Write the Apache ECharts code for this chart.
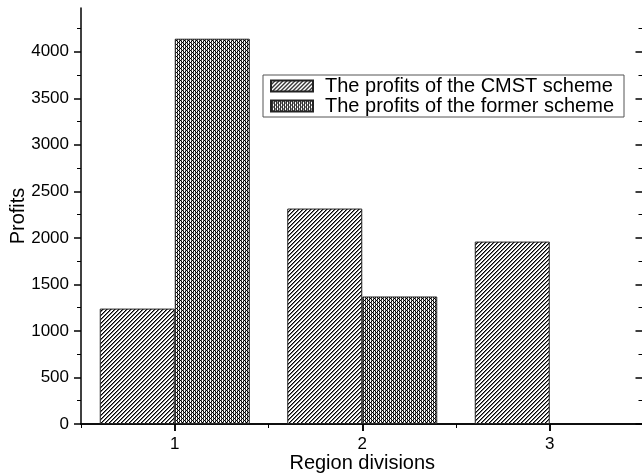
<!DOCTYPE html>
<html>
<head>
<meta charset="utf-8">
<script src="https://cdn.jsdelivr.net/npm/echarts@6/dist/echarts.min.js"></script>
<style>
html,body{margin:0;padding:0;background:#fff;}
#c{width:642px;height:474px;}
</style>
</head>
<body>
<div id="c"></div>
<script>
// ---- data ----
var regions = [1, 2, 3];
var cmstProfits = [1240, 2315, 1960];
var formerProfits = [4140, 1370, null];
var seriesNames = ['The profits of the CMST scheme', 'The profits of the former scheme'];
var yTickValues = [0, 500, 1000, 1500, 2000, 2500, 3000, 3500, 4000];
var yMinorValues = [250, 750, 1250, 1750, 2250, 2750, 3250, 3750, 4250];
var xTickValues = [1, 2, 3];
var xMinorValues = [0.5, 1.5, 2.5, 3.5];
var yMax = 4470;
var xMin = 0.5, xMax = 3.5;

// ---- patterns ----
function makeTile(fn) {
  var c = document.createElement('canvas');
  c.width = 4; c.height = 4;
  var ctx = c.getContext('2d');
  ctx.fillStyle = '#fff';
  ctx.fillRect(0, 0, 4, 4);
  for (var y = 0; y < 4; y++) {
    for (var x = 0; x < 4; x++) {
      var col = fn(x, y);
      if (col) { ctx.fillStyle = col; ctx.fillRect(x, y, 1, 1); }
    }
  }
  return c;
}
var hatch = makeTile(function (x, y) {
  var k = (x + y) % 4;
  if (k === 3) return '#000';
  if (k === 0) return '#777';
  return null;
});
var cross = makeTile(function (x, y) {
  var a = (x + y) % 4, b = ((x - y) % 4 + 4) % 4;
  if (a === 0 || b === 0) return '#000';
  if ((a === 1 && b === 1) || (a === 3 && b === 3)) return '#666';
  return null;
});

var font = 'Liberation Sans, Arial, sans-serif';
var chart = echarts.init(document.getElementById('c'), null, {renderer: 'canvas'});

function pairs(vals) {
  return regions.map(function (r, i) { return vals[i] == null ? [r, '-'] : [r, vals[i]]; });
}
function plain(v) { return String(v); }

var lineStyle = {color: '#000', width: 1.5};

var option = {
  animation: false,
  backgroundColor: '#fff',
  grid: {left: 81, top: 8, width: 562.5, height: 416, outerBoundsMode: 'none', containLabel: false},
  legend: {
    orient: 'vertical',
    left: 263,
    top: 75,
    padding: [1, 10, 1, 7],
    itemGap: 0,
    itemWidth: 42,
    itemHeight: 11,
    borderColor: '#555',
    borderWidth: 1,
    icon: 'rect',
    textStyle: {fontFamily: font, fontSize: 20, color: '#000', lineHeight: 18, padding: [0, 0, 0, 7]},
    data: seriesNames
  },
  xAxis: [
    {type: 'value', position: 'bottom', min: xMin, max: xMax,
      axisLine: {show: true, lineStyle: lineStyle},
      axisTick: {show: true, inside: false, length: 7, customValues: xTickValues, lineStyle: {color: '#000', width: 1.5}},
      axisLabel: {show: true, customValues: xTickValues, formatter: plain, margin: 12, fontFamily: font, fontSize: 17, color: '#000'},
      splitLine: {show: false},
      name: 'Region divisions', nameLocation: 'middle', nameGap: 29, nameMoveOverlap: false,
      nameTextStyle: {fontFamily: font, fontSize: 20, color: '#000'}
    },
    {type: 'value', position: 'bottom', min: xMin, max: xMax,
      axisLine: {show: false},
      axisTick: {show: true, inside: false, length: 4, customValues: xMinorValues, lineStyle: {color: '#000', width: 1}},
      axisLabel: {show: false}, splitLine: {show: false}
    },
    {type: 'value', position: 'top', min: xMin, max: xMax,
      axisLine: {show: true, lineStyle: lineStyle},
      axisTick: {show: true, inside: true, length: 7, customValues: xTickValues, lineStyle: {color: '#000', width: 1.5}},
      axisLabel: {show: false}, splitLine: {show: false}
    },
    {type: 'value', position: 'top', min: xMin, max: xMax,
      axisLine: {show: false},
      axisTick: {show: true, inside: true, length: 4, customValues: [1.5, 2.5], lineStyle: {color: '#000', width: 1}},
      axisLabel: {show: false}, splitLine: {show: false}
    }
  ],
  yAxis: [
    {type: 'value', position: 'left', min: 0, max: yMax,
      axisLine: {show: true, lineStyle: lineStyle},
      axisTick: {show: true, inside: false, length: 7, customValues: yTickValues, lineStyle: {color: '#000', width: 1.5}},
      axisLabel: {show: true, customValues: yTickValues, formatter: plain, margin: 12, fontFamily: font, fontSize: 17, color: '#000'},
      splitLine: {show: false},
      name: 'Profits', nameLocation: 'middle', nameGap: 53, nameMoveOverlap: false,
      nameTextStyle: {fontFamily: font, fontSize: 20, color: '#000'}
    },
    {type: 'value', position: 'left', min: 0, max: yMax,
      axisLine: {show: false},
      axisTick: {show: true, inside: false, length: 4, customValues: yMinorValues, lineStyle: {color: '#000', width: 1}},
      axisLabel: {show: false}, splitLine: {show: false}
    },
    {type: 'value', position: 'right', min: 0, max: yMax,
      axisLine: {show: true, lineStyle: lineStyle},
      axisTick: {show: true, inside: true, length: 8, customValues: yTickValues, lineStyle: {color: '#000', width: 1.5}},
      axisLabel: {show: false}, splitLine: {show: false}
    },
    {type: 'value', position: 'right', min: 0, max: yMax,
      axisLine: {show: false},
      axisTick: {show: true, inside: true, length: 5, customValues: yMinorValues, lineStyle: {color: '#000', width: 1}},
      axisLabel: {show: false}, splitLine: {show: false}
    }
  ],
  series: [
    {name: seriesNames[0], type: 'bar', xAxisIndex: 0, yAxisIndex: 0,
      barWidth: '40%', barGap: '0%',
      itemStyle: {color: {image: hatch, repeat: 'repeat'}, borderColor: '#222', borderWidth: 1},
      data: pairs(cmstProfits)
    },
    {name: seriesNames[1], type: 'bar', xAxisIndex: 0, yAxisIndex: 0,
      barWidth: '40%', barGap: '0%',
      itemStyle: {color: {image: cross, repeat: 'repeat'}, borderColor: '#222', borderWidth: 1},
      data: pairs(formerProfits)
    }
  ]
};
chart.setOption(option);
</script>
</body>
</html>
